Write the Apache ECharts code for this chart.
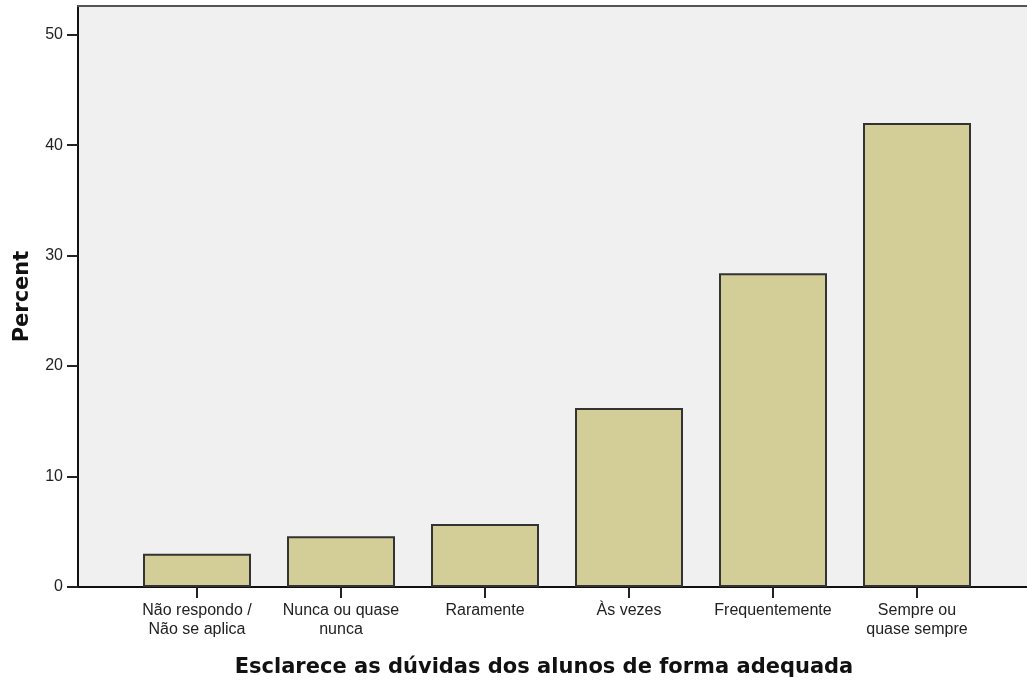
<!DOCTYPE html>
<html>
<head>
<meta charset="utf-8">
<script src="https://cdn.jsdelivr.net/npm/echarts@6/dist/echarts.min.js"></script>
<style>
html,body{margin:0;padding:0;background:#fff;}
#chart{width:1027px;height:687px;}
</style>
</head>
<body>
<div id="chart"></div>
<script>
const categories = ['Não respondo /\nNão se aplica', 'Nunca ou quase\nnunca', 'Raramente', 'Às vezes', 'Frequentemente', 'Sempre ou\nquase sempre'];
const percentValues = [3.0, 4.6, 5.7, 16.2, 28.4, 42.0];
const yTicks = [0, 10, 20, 30, 40, 50];
const yMax = 52.6;

const chart = echarts.init(document.getElementById('chart'), null, {renderer: 'canvas'});
const labelFont = 'Liberation Sans, Arial, sans-serif';
const boldFont = 'DejaVu Sans, Verdana, sans-serif';
chart.setOption({
  animation: false,
  backgroundColor: '#ffffff',
  grid: [
    {left: 78, right: 0, top: 6, bottom: 100, show: true, backgroundColor: '#f0f0f0', borderWidth: 0},
    {left: 125, right: 38, top: 6, bottom: 100}
  ],
  xAxis: [
    {
      gridIndex: 1, type: 'category', data: categories,
      axisLine: {show: false},
      axisTick: {show: true, alignWithLabel: true, length: 11, lineStyle: {color: '#222', width: 2}},
      axisLabel: {margin: 14, color: '#222', fontSize: 16, fontFamily: labelFont, lineHeight: 19, interval: 0},
      name: 'Esclarece as dúvidas dos alunos de forma adequada',
      nameLocation: 'middle', nameGap: 70,
      nameTextStyle: {fontFamily: boldFont, fontWeight: 'bold', fontSize: 21, color: '#111', padding: [0, 26, 0, 0]}
    },
    {
      gridIndex: 0, type: 'value', min: 0, max: 1, position: 'bottom',
      axisLine: {show: true, lineStyle: {color: '#111', width: 2}},
      axisTick: {show: false}, axisLabel: {show: false}, splitLine: {show: false}
    },
    {
      gridIndex: 0, type: 'value', min: 0, max: 1, position: 'top',
      axisLine: {show: true, lineStyle: {color: '#555', width: 2}},
      axisTick: {show: false}, axisLabel: {show: false}, splitLine: {show: false}
    }
  ],
  yAxis: [
    {
      gridIndex: 0, type: 'value', min: 0, max: yMax,
      axisLine: {show: true, lineStyle: {color: '#111', width: 2}},
      axisTick: {show: true, length: 11, customValues: yTicks, lineStyle: {color: '#222', width: 2}},
      axisLabel: {customValues: yTicks, margin: 15, color: '#222', fontSize: 16, fontFamily: labelFont},
      splitLine: {show: false},
      name: 'Percent', nameLocation: 'middle', nameGap: 45,
      nameTextStyle: {fontFamily: boldFont, fontWeight: 'bold', fontSize: 21, color: '#111'}
    },
    {
      gridIndex: 1, type: 'value', min: 0, max: yMax, show: false, splitLine: {show: false}
    }
  ],
  series: [{
    type: 'bar', xAxisIndex: 0, yAxisIndex: 1,
    data: percentValues,
    barWidth: 108,
    itemStyle: {color: '#d3ce97', borderColor: '#333', borderWidth: 2}
  }]
});
</script>
</body>
</html>
